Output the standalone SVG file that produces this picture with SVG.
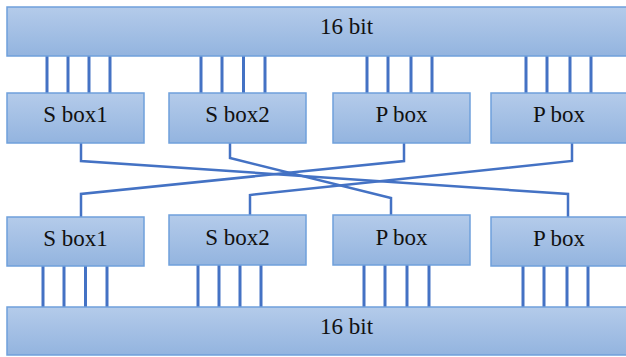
<svg xmlns="http://www.w3.org/2000/svg" width="626" height="357" viewBox="0 0 626 357">
  <defs>
    <linearGradient id="boxFill" x1="0" y1="0" x2="0" y2="1">
      <stop offset="0" stop-color="#b4cbea"/>
      <stop offset="1" stop-color="#93b4df"/>
    </linearGradient>
    <style>
      .box { fill: url(#boxFill); stroke: #6fa0db; stroke-width: 1.5; }
      .lbl { font-family: "Liberation Serif", "Times New Roman", serif; font-size: 23px; fill: #111; }
      .wire { stroke: #4472c4; stroke-width: 3; fill: none; }
      .cross { stroke: #4472c4; stroke-width: 2.5; fill: none; stroke-linejoin: miter; }
    </style>
  </defs>
  <rect width="626" height="357" fill="#ffffff"/>

  <!-- connectors -->
  <g id="connectors">
    <!-- bus wires: top bar to first-round boxes -->
    <path class="wire" d="M47 56V93M68 56V93M89 56V93M110 56V93"/>
    <path class="wire" d="M201 56V93M222 56V93M243.5 56V93M265 56V93"/>
    <path class="wire" d="M367 56V93M388 56V93M411 56V93M432 56V93"/>
    <path class="wire" d="M526 56V93M547 56V93M570 56V93M591 56V93"/>
    <!-- bus wires: second-round boxes to bottom bar -->
    <path class="wire" d="M43 266V307M64 266V307M85.5 266V307M107 266V307"/>
    <path class="wire" d="M198 265V307M219 265V307M240 265V307M261 265V307"/>
    <path class="wire" d="M364 265V307M385 265V307M407 265V307M429 265V307"/>
    <path class="wire" d="M523 266V307M544 266V307M567 266V307M588 266V307"/>
    <!-- permutation between rounds -->
    <path class="cross" d="M81 143V161L568 194V217"/>
    <path class="cross" d="M230 143V158L391 198V215"/>
    <path class="cross" d="M404 143V161L81 194V217"/>
    <path class="cross" d="M572 143V161L250 195V215"/>
  </g>

  <g id="bar-top">
    <rect class="box" x="7" y="7" width="625" height="49"/>
    <text class="lbl" x="320" y="34">16 bit</text>
  </g>

  <g id="sbox1-a">
    <rect class="box" x="7" y="93" width="137" height="50"/>
    <text class="lbl" x="75.5" y="122" text-anchor="middle">S box1</text>
  </g>
  <g id="sbox2-a">
    <rect class="box" x="169" y="93" width="137" height="50"/>
    <text class="lbl" x="237.5" y="122" text-anchor="middle">S box2</text>
  </g>
  <g id="pbox1-a">
    <rect class="box" x="333" y="93" width="137" height="50"/>
    <text class="lbl" x="401.5" y="122" text-anchor="middle">P box</text>
  </g>
  <g id="pbox2-a">
    <rect class="box" x="491" y="93" width="139" height="50"/>
    <text class="lbl" x="559" y="122" text-anchor="middle">P box</text>
  </g>

  <g id="sbox1-b">
    <rect class="box" x="7" y="217" width="137" height="49"/>
    <text class="lbl" x="75.5" y="246" text-anchor="middle">S box1</text>
  </g>
  <g id="sbox2-b">
    <rect class="box" x="169" y="215" width="137" height="50"/>
    <text class="lbl" x="237.5" y="245" text-anchor="middle">S box2</text>
  </g>
  <g id="pbox1-b">
    <rect class="box" x="333" y="215" width="137" height="50"/>
    <text class="lbl" x="401.5" y="245" text-anchor="middle">P box</text>
  </g>
  <g id="pbox2-b">
    <rect class="box" x="491" y="217" width="139" height="49"/>
    <text class="lbl" x="559" y="246" text-anchor="middle">P box</text>
  </g>

  <g id="bar-bottom">
    <rect class="box" x="7" y="307" width="625" height="48"/>
    <text class="lbl" x="320" y="334">16 bit</text>
  </g>
</svg>
